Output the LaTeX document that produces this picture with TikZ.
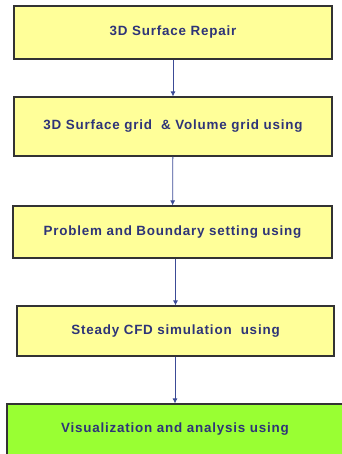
\documentclass[tikz,border=0pt]{standalone}
\usepackage{fontspec}
\newfontfamily\stepfont[LetterSpace=6]{Liberation Sans}
\usetikzlibrary{arrows.meta}
\definecolor{boxyellow}{RGB}{255,255,153}
\definecolor{boxgreen}{RGB}{153,255,51}
\definecolor{textblue}{RGB}{46,52,120}
\definecolor{arrowblue}{RGB}{60,75,150}
\begin{document}
\begin{tikzpicture}[x=1pt,y=-1pt,thick]
\tikzset{stage/.style={draw=black!80, line width=1.1pt, fill=boxyellow,
  text=textblue, font=\stepfont\bfseries\fontsize{13.4}{15}\selectfont,
  inner sep=0pt},
  flow/.style={draw=arrowblue, line width=0.8pt,
  -{Latex[length=5pt,width=5pt]}},
}
\useasboundingbox (0,0) rectangle (341,454);

\node[stage, minimum width=318pt, minimum height=53pt] (repair) at (173,32.5) {3D Surface Repair};
\node[stage, minimum width=318pt, minimum height=59pt] (grid) at (173,126.5) {3D Surface grid \ \& Volume grid using};
\node[stage, minimum width=319pt, minimum height=52pt] (setting) at (172.5,232) {Problem and Boundary setting using};
\node[stage, minimum width=317pt, minimum height=50pt] (cfd) at (175.5,331) {Steady CFD simulation \ using};
\node[stage, fill=boxgreen, minimum width=336pt, minimum height=51pt] (visual) at (175,429.5) {Visualization and analysis using};

\draw[flow] (repair) -- (grid);
\draw[flow] (grid) -- (setting);
\draw[flow] (cfd.north |- setting.south) -- (cfd);
\draw[flow] (cfd.south -| visual.north) -- (visual);
\end{tikzpicture}
\end{document}
